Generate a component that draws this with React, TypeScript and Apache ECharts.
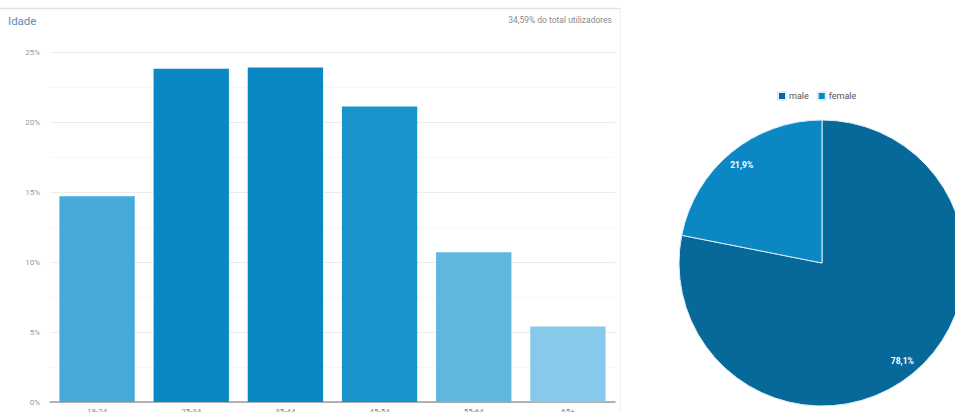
import React, { useEffect, useRef } from "react";
import * as echarts from "echarts";

const ageCategories = ["18-24", "25-34", "35-44", "45-54", "55-64", "65+"];
const ageValues = [14.7, 23.8, 23.9, 21.1, 10.7, 5.4];
const ageColors = ["#45a9d9", "#0a88c5", "#0a88c5", "#1a95cc", "#5fb7df", "#86c9ea"];
const yTicks = [0, 5, 10, 15, 20, 25];
const genderNames = ["male", "female"];
const genderValues = [78.1, 21.9];
const genderColors = ["#06699a", "#0b87c3"];
const titleText = "Idade";
const subtitleText = "34,59% do total utilizadores";

const fmt = (v: number) => v.toFixed(1).replace(".", ",") + "%";

export default function App() {
  const ref = useRef<HTMLDivElement>(null);
  useEffect(() => {
    if (!ref.current) return;
    const chart = echarts.init(ref.current, null, { renderer: "svg" });
    const pieData = genderNames.map((n, i) => ({
      name: n,
      value: genderValues[i],
      itemStyle: { color: genderColors[i] },
    }));
    chart.setOption({
      animation: false,
      backgroundColor: "#ffffff",
      textStyle: { fontFamily: "Roboto, 'Noto Sans', sans-serif" },
      graphic: [
        { type: "line", shape: { x1: 0, y1: 8.5, x2: 620, y2: 8.5 }, style: { stroke: "#e3e3e3", lineWidth: 1.5 }, silent: true },
        { type: "line", shape: { x1: 620.5, y1: 8, x2: 620.5, y2: 412 }, style: { stroke: "#f0f0f0", lineWidth: 1 }, silent: true },
        { type: "text", left: 8, top: 15, style: { text: titleText, fill: "#5a8bb5", fontSize: 11.5, fontFamily: "Roboto, sans-serif" } },
        { type: "text", right: 343, top: 15, style: { text: subtitleText, fill: "#8a8a8a", fontSize: 8.5, fontFamily: "Roboto, sans-serif" } },
      ],
      legend: {
        data: genderNames,
        left: 772,
        top: 86,
        itemWidth: 8,
        itemHeight: 8,
        itemGap: 8,
        icon: "rect",
        textStyle: { fontSize: 9, color: "#555", padding: [0, 0, 0, -2] },
      },
      grid: { left: 50, right: 340, top: 52, bottom: 10, containLabel: false, outerBoundsMode: "none" },
      xAxis: {
        type: "category",
        data: ageCategories,
        axisLine: { show: true, lineStyle: { color: "#9a9a9a", width: 1.5 } },
        axisTick: { show: false },
        axisLabel: { color: "#888", fontSize: 8, margin: 5 },
      },
      yAxis: {
        type: "value",
        min: 0,
        max: 25,
        interval: 5,
        axisLabel: {
          color: "#999",
          fontSize: 8,
          margin: 10,
          formatter: (v: number) => (yTicks.includes(v) ? v + "%" : ""),
        },
        axisLine: { show: false },
        axisTick: { show: false },
        splitLine: { lineStyle: { color: "#ececec" } },
        minorSplitLine: { show: true, lineStyle: { color: "#f7f7f7" } },
        minorTick: { show: false, splitNumber: 2 },
      },
      series: [
        {
          type: "bar",
          data: ageValues.map((v, i) => ({ value: v, itemStyle: { color: ageColors[i] } })),
          barCategoryGap: "20%",
        },
        {
          type: "pie",
          center: [822, 263],
          radius: [0, 143],
          startAngle: 90,
          clockwise: true,
          data: pieData,
          itemStyle: { borderColor: "#d8eef8", borderWidth: 1 },
          label: { show: false },
          labelLine: { show: false },
          emphasis: { disabled: true },
        },
        {
          type: "pie",
          center: [822, 263],
          radius: [104, 143],
          startAngle: 90,
          clockwise: true,
          silent: true,
          data: pieData.map((d) => ({ ...d, itemStyle: { color: "rgba(0,0,0,0)" } })),
          itemStyle: { borderWidth: 0 },
          label: {
            show: true,
            position: "inside",
            color: "#ffffff",
            fontSize: 8.5,
            fontWeight: "bold",
            formatter: (p: any) => fmt(p.value),
          },
          labelLine: { show: false },
          emphasis: { disabled: true },
        },
      ],
    });
    return () => chart.dispose();
  }, []);
  return (
    <div
      ref={ref}
      style={{ position: "fixed", left: 0, top: 0, width: 955, height: 412 }}
    />
  );
}
